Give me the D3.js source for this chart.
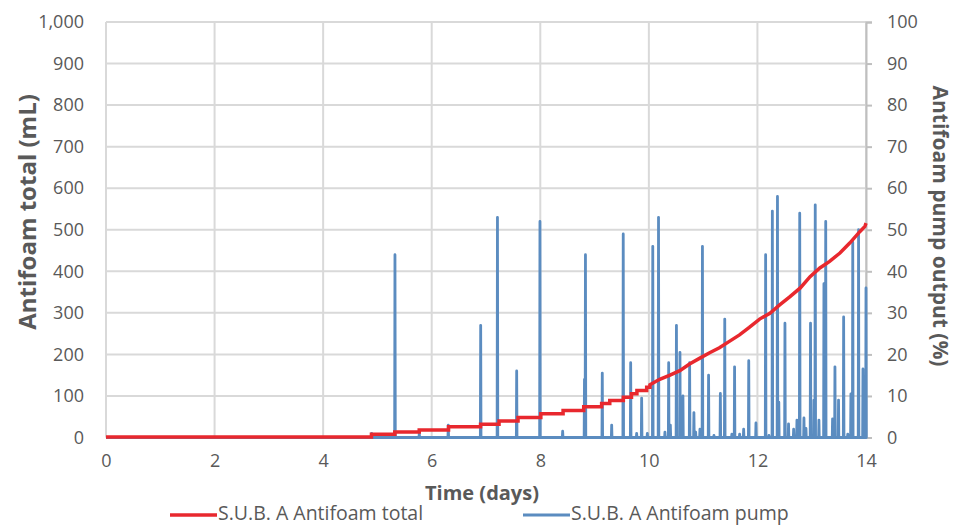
<!DOCTYPE html>
<html>
<head>
<meta charset="utf-8">
<script src="https://cdn.jsdelivr.net/npm/d3@7"></script>
<style>
  body { margin: 0; background: #ffffff; }
  svg { display: block; font-family: "Open Sans", sans-serif; }
</style>
</head>
<body>
<svg id="chart" width="961" height="525"></svg>
<script>
// 累積量(mL)の読み取り点 (10日目までは階段状)
var totalDays = [0, 4.89, 5.32, 5.77, 6.31, 6.9, 7.24, 7.59, 8.01, 8.42, 8.8, 9.13, 9.28, 9.53, 9.68, 9.78, 9.96,
  10.02, 10.2, 10.39, 10.57, 10.75, 10.94, 11.12, 11.3, 11.49, 11.67, 11.85, 12.04, 12.23, 12.41, 12.6, 12.79,
  12.97, 13.15, 13.33, 13.52, 13.7, 13.89, 13.98, 14.0];
var totalMl = [1, 8, 13, 18, 26, 32, 40, 48, 57, 65, 74, 82, 89, 97, 105, 113, 121,
  127, 140, 150, 161, 177, 191, 204, 216, 232, 247, 265, 285, 299, 319, 339, 360,
  387, 408, 424, 444, 468, 496, 508, 516];
var stepUntilDay = 10.02;

// ポンプ出力(%)のスパイク位置と高さ
var pumpDays = [4.894, 5.323, 5.771, 6.305, 6.902, 7.211, 7.565, 7.994, 8.412, 8.814, 8.832, 9.142, 9.315, 9.528,
  9.665, 9.775, 9.867, 9.972, 10.072, 10.178, 10.296, 10.365, 10.396, 10.508, 10.573, 10.6, 10.628, 10.751,
  10.83, 10.862, 10.941, 10.987, 11.1, 11.199, 11.317, 11.398, 11.529, 11.579, 11.672, 11.746, 11.84, 11.973,
  12.151, 12.212, 12.275, 12.369, 12.394, 12.507, 12.573, 12.667, 12.728, 12.779, 12.857, 12.894, 12.978,
  13.041, 13.065, 13.133, 13.225, 13.258, 13.384, 13.428, 13.494, 13.588, 13.664, 13.722, 13.756, 13.863,
  13.944, 13.975, 14.0];
var pumpPct = [1, 44, 1, 3, 27, 53, 16, 52, 1.5, 14, 44, 15.5, 3, 49,
  18, 1, 9.5, 1, 46, 53, 1.3, 18, 3, 27, 20.5, 2, 10, 18,
  6, 1.3, 2, 46, 15, 0.5, 10.6, 28.5, 0.8, 17, 0.8, 2, 18.5, 3.5,
  44, 0.5, 54.5, 58, 8.5, 27.5, 3.3, 2, 4.2, 54, 4.7, 2.2, 27.5,
  9, 56, 4.2, 37, 52, 4.5, 17, 9, 29, 0.8, 10.5, 47, 50,
  16.5, 4.5, 36];

var xTicks = [0, 2, 4, 6, 8, 10, 12, 14];
var leftTicks = [0, 100, 200, 300, 400, 500, 600, 700, 800, 900, 1000];
var rightTicks = [0, 10, 20, 30, 40, 50, 60, 70, 80, 90, 100];

var seriesNames = ["S.U.B. A Antifoam total", "S.U.B. A Antifoam pump"];
var redColor = "#E8282E";
var blueColor = "#5B8CC0";
var textColor = "#595959";
var gridColor = "#D9D9D9";

var svg = d3.select("#chart");
// 描画領域 (window.top と衝突しない名前にする)
var plotLeft = 106, plotRight = 866, plotTop = 22, plotBottom = 437.5;

var xScale = d3.scaleLinear().domain([0, 14]).range([plotLeft, plotRight]);
var mlScale = d3.scaleLinear().domain([0, 1000]).range([plotBottom, plotTop]);
var pctScale = d3.scaleLinear().domain([0, 100]).range([plotBottom, plotTop]);

// グリッド線
svg.append("g")
  .selectAll("line")
  .data(leftTicks)
  .enter()
  .append("line")
  .attr("x1", plotLeft).attr("x2", plotRight)
  .attr("y1", (d) => mlScale(d)).attr("y2", (d) => mlScale(d))
  .attr("stroke", gridColor).attr("stroke-width", 2);
svg.append("g")
  .selectAll("line")
  .data(xTicks)
  .enter()
  .append("line")
  .attr("x1", (d) => xScale(d)).attr("x2", (d) => xScale(d))
  .attr("y1", plotTop).attr("y2", plotBottom)
  .attr("stroke", gridColor).attr("stroke-width", 2);

// 左軸
var leftAxis = d3.axisLeft(mlScale).tickValues(leftTicks).tickSize(0).tickPadding(22)
  .tickFormat(d3.format(",d"));
var gLeft = svg.append("g").attr("transform", `translate(${plotLeft},0)`).call(leftAxis);
gLeft.select(".domain").remove();

// 右軸
var rightAxis = d3.axisRight(pctScale).tickValues(rightTicks).tickSize(6).tickPadding(15);
var gRight = svg.append("g").attr("transform", `translate(${plotRight},0)`).call(rightAxis);
gRight.select(".domain").attr("stroke", "#BFBFBF").attr("stroke-width", 2);
gRight.selectAll(".tick line").attr("stroke", "#BFBFBF").attr("stroke-width", 2);

// 下軸
var bottomAxis = d3.axisBottom(xScale).tickValues(xTicks).tickSize(0).tickPadding(17);
var gBottom = svg.append("g").attr("transform", `translate(0,${plotBottom})`).call(bottomAxis);
gBottom.select(".domain").remove();

svg.selectAll(".tick text")
  .attr("fill", textColor)
  .style("font-size", "18px")
  .style("font-family", "'Open Sans', sans-serif");

// ポンプ出力の線(スパイク)
var pumpPoints = [[0, 0]];
for (var i = 0; i < pumpDays.length; i++) {
  pumpPoints.push([pumpDays[i] - 0.006, 0]);
  pumpPoints.push([pumpDays[i], pumpPct[i]]);
  pumpPoints.push([pumpDays[i] + 0.006, 0]);
}
pumpPoints.push([14, 0]);
var pumpLine = d3.line()
  .x((d) => xScale(d[0]))
  .y((d) => pctScale(d[1]));
svg.append("path")
  .datum(pumpPoints)
  .attr("d", pumpLine)
  .attr("fill", "none")
  .attr("stroke", blueColor)
  .attr("stroke-width", 2.8)
  .attr("stroke-linejoin", "round");

// 累積量の線: 前半は段差の角を足して階段に、後半は読み取り点を直線で結ぶ
var totalPoints = [];
for (var j = 0; j < totalDays.length; j++) {
  if (j > 0 && totalDays[j] <= stepUntilDay) {
    totalPoints.push([totalDays[j], totalMl[j - 1]]);
  }
  totalPoints.push([totalDays[j], totalMl[j]]);
}
var totalLine = d3.line()
  .x((d) => xScale(d[0]))
  .y((d) => mlScale(d[1]));
svg.append("path")
  .datum(totalPoints)
  .attr("d", totalLine)
  .attr("fill", "none")
  .attr("stroke", redColor)
  .attr("stroke-width", 3.5);

// 軸タイトル
svg.append("text")
  .attr("x", 482).attr("y", 500)
  .attr("text-anchor", "middle")
  .attr("fill", textColor)
  .style("font-size", "20px").style("font-weight", "bold")
  .text("Time (days)");
svg.append("text")
  .attr("transform", "translate(36,212) rotate(-90)")
  .attr("text-anchor", "middle")
  .attr("fill", textColor)
  .style("font-size", "24px").style("font-weight", "bold")
  .text("Antifoam total (mL)");
svg.append("text")
  .attr("transform", "translate(933,226) rotate(90)")
  .attr("text-anchor", "middle")
  .attr("fill", textColor)
  .style("font-size", "21px").style("font-weight", "bold")
  .text("Antifoam pump output (%)");

// 凡例
var legendX = [170, 523];
var legendColors = [redColor, blueColor];
var legend = svg.append("g")
  .selectAll("g")
  .data(seriesNames)
  .enter()
  .append("g")
  .attr("transform", (d, i) => `translate(${legendX[i]},515)`);
legend.append("line")
  .attr("x1", 0).attr("x2", 47)
  .attr("stroke", (d, i) => legendColors[i])
  .attr("stroke-width", (d, i) => (i == 0 ? 3.5 : 2.8));
legend.append("text")
  .attr("x", 48).attr("y", 5)
  .attr("fill", textColor)
  .style("font-size", "19.5px")
  .text((d) => d);
</script>
</body>
</html>
